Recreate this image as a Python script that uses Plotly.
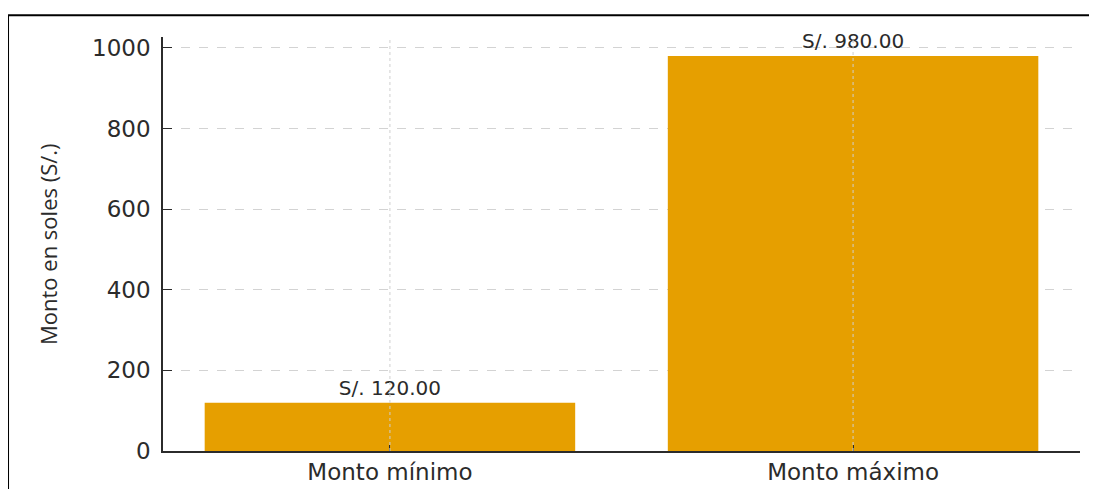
import plotly.graph_objects as go

categories = ["Monto mínimo", "Monto máximo"]
values = [120, 980]
labels = ["S/. 120.00", "S/. 980.00"]
y_ticks = [0, 200, 400, 600, 800, 1000]

BAR = "#E69F00"
DARK = "#2b2b2b"
GRID = "#d3d3d3"

fig = go.Figure()
fig.add_trace(go.Bar(
    x=categories, y=values, text=labels, textposition="outside",
    marker=dict(color=BAR, line=dict(width=0)), width=0.8,
    textfont=dict(family="DejaVu Sans", size=20, color=DARK),
    cliponaxis=False, showlegend=False,
))

# vertical dashed gridlines drawn over the bars
for c in categories:
    fig.add_shape(type="line", xref="x", yref="paper", x0=c, x1=c, y0=0, y1=1,
                  line=dict(color="#cfcfcf", width=1, dash="3px,3px"), layer="above")

# outer frame (top and left edges)
fig.add_shape(type="line", xref="paper", yref="paper", x0=-0.169, x1=1.1,
              y0=1.0526, y1=1.0526, line=dict(color="black", width=2))
fig.add_shape(type="line", xref="paper", yref="paper", x0=-0.169, x1=-0.169,
              y0=1.0526, y1=-0.2, line=dict(color="black", width=2))

fig.add_annotation(text="Monto en soles (S/.)", xref="paper", yref="paper",
                   x=-0.1254, y=0.5, xanchor="center", yanchor="middle",
                   textangle=-90, showarrow=False,
                   font=dict(family="Open Sans", size=22, color=DARK))

fig.update_layout(
    width=1097, height=489,
    margin=dict(l=155, r=25, t=29, b=42),
    plot_bgcolor="white", paper_bgcolor="white",
    bargap=0.2,
    xaxis=dict(
        range=[-0.49, 1.49], showgrid=False, showline=True, linecolor=DARK,
        linewidth=1.5, ticks="inside", ticklen=6, tickcolor=DARK,
        tickfont=dict(family="DejaVu Sans", size=23, color=DARK),
        zeroline=False,
    ),
    yaxis=dict(
        range=[0, 1027], tickvals=y_ticks, showgrid=True, gridcolor=GRID,
        griddash="dash", gridwidth=1, showline=True, linecolor=DARK,
        linewidth=1.5, ticks="inside", ticklen=9, tickcolor=DARK,
        tickfont=dict(family="DejaVu Sans", size=23, color=DARK),
        ticklabelstandoff=6, zeroline=False,
    ),
)

fig.write_html("out.html")
